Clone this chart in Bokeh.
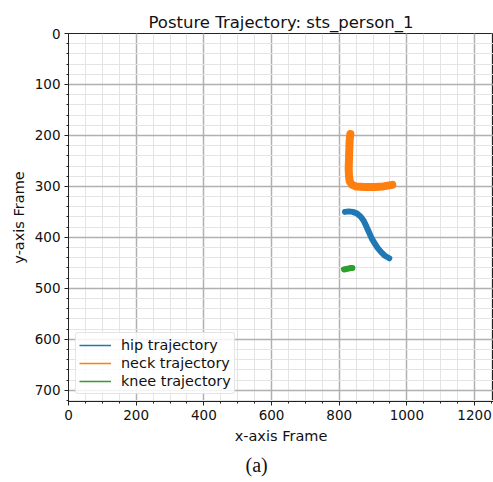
from bokeh.plotting import figure
from bokeh.models import Range1d, Legend, LegendItem, Title, FixedTicker
from bokeh.embed import file_html
from bokeh.resources import INLINE

# Data (pixel coordinates in a 1280x720 frame)
hip_x = [817, 828, 840, 852, 863, 872, 880, 888, 896, 905, 914, 924, 935, 948]
hip_y = [350, 349, 350, 353, 359, 367, 378, 390, 402, 412, 421, 429, 436, 441]
neck_x = [833, 831, 830, 829, 828, 829, 831, 838, 850, 875, 905, 930, 948, 957]
neck_y = [197, 208, 225, 245, 265, 280, 290, 297, 300, 301, 301, 300, 298, 297]
knee_x = [814, 821, 828, 834, 839]
knee_y = [463, 462, 461, 460, 460]

series_names = ["hip trajectory", "neck trajectory", "knee trajectory"]
colors = ["#1f77b4", "#ff7f0e", "#2ca02c"]

x_ticks = [0, 200, 400, 600, 800, 1000, 1200]
y_ticks = [0, 100, 200, 300, 400, 500, 600, 700]

FONT = "DejaVu Sans"

p = figure(width=493, height=482, output_backend="svg", toolbar_location=None,
           x_range=Range1d(0, 1256), y_range=Range1d(722, 0),
           min_border_left=68, min_border_right=0, min_border_top=33, min_border_bottom=81)

p.title.text = "Posture Trajectory: sts_person_1"
p.title.align = "center"
p.title.text_font = FONT
p.title.text_font_size = "16.5px"
p.title.text_font_style = "normal"
p.title.text_color = "#111111"
p.title.standoff = 4

# axes
p.xaxis.ticker = FixedTicker(ticks=x_ticks, minor_ticks=list(range(0, 1300, 50)))
p.yaxis.ticker = FixedTicker(ticks=y_ticks, minor_ticks=list(range(0, 740, 20)))
p.xaxis.axis_label = "x-axis Frame"
p.yaxis.axis_label = "y-axis Frame"
for ax in [p.xaxis[0], p.yaxis[0]]:
    ax.axis_label_text_font = FONT
    ax.axis_label_text_font_size = "14.5px"
    ax.axis_label_text_font_style = "normal"
    ax.axis_label_text_color = "#111111"
    ax.major_label_text_font = FONT
    ax.major_label_text_font_size = "13.5px"
    ax.major_label_text_color = "#111111"
    ax.axis_line_color = "#222222"
    ax.major_tick_line_color = "#222222"
    ax.minor_tick_line_color = "#222222"
    ax.major_tick_in = 0
    ax.major_tick_out = 4
    ax.minor_tick_in = 0
    ax.minor_tick_out = 2
    ax.major_label_standoff = 4
    ax.axis_label_standoff = 5

# grids
p.xgrid.grid_line_color = "#b0b0b0"
p.ygrid.grid_line_color = "#b0b0b0"
p.xgrid.grid_line_width = 1.5
p.ygrid.grid_line_width = 1.5
p.xgrid.minor_grid_line_color = "#e4e4e4"
p.ygrid.minor_grid_line_color = "#e4e4e4"
p.xgrid.minor_grid_line_width = 1
p.ygrid.minor_grid_line_width = 1

p.outline_line_color = "#222222"
p.background_fill_color = "white"

data = [(hip_x, hip_y), (neck_x, neck_y), (knee_x, knee_y)]
widths = [6, 8, 6]

items = []
for (xs, ys), name, c in zip(data, series_names, colors):
    thin = p.line(xs, ys, line_color=c, line_width=1.5)
    items.append(LegendItem(label=name, renderers=[thin]))
for (xs, ys), c, w in zip(data, colors, widths):
    p.line(xs, ys, line_color=c, line_width=w, line_join="round", line_cap="round")

legend = Legend(items=items, location="bottom_left")
legend.label_text_font = FONT
legend.label_text_font_size = "14.4px"
legend.label_text_color = "#111111"
legend.glyph_width = 32
legend.glyph_height = 18
legend.label_height = 18
legend.label_standoff = 10
legend.spacing = 0
legend.padding = 3
legend.margin = 7
legend.border_line_color = "#cccccc"
legend.border_radius = 3
legend.background_fill_alpha = 0.85
p.add_layout(legend)

cap = Title(text="(a)", align="left", text_font="Liberation Serif",
            text_font_size="20px", text_font_style="normal", text_color="#111111",
            offset=177)
p.add_layout(cap, "below")

open("out.html", "w").write(file_html(p, INLINE))
